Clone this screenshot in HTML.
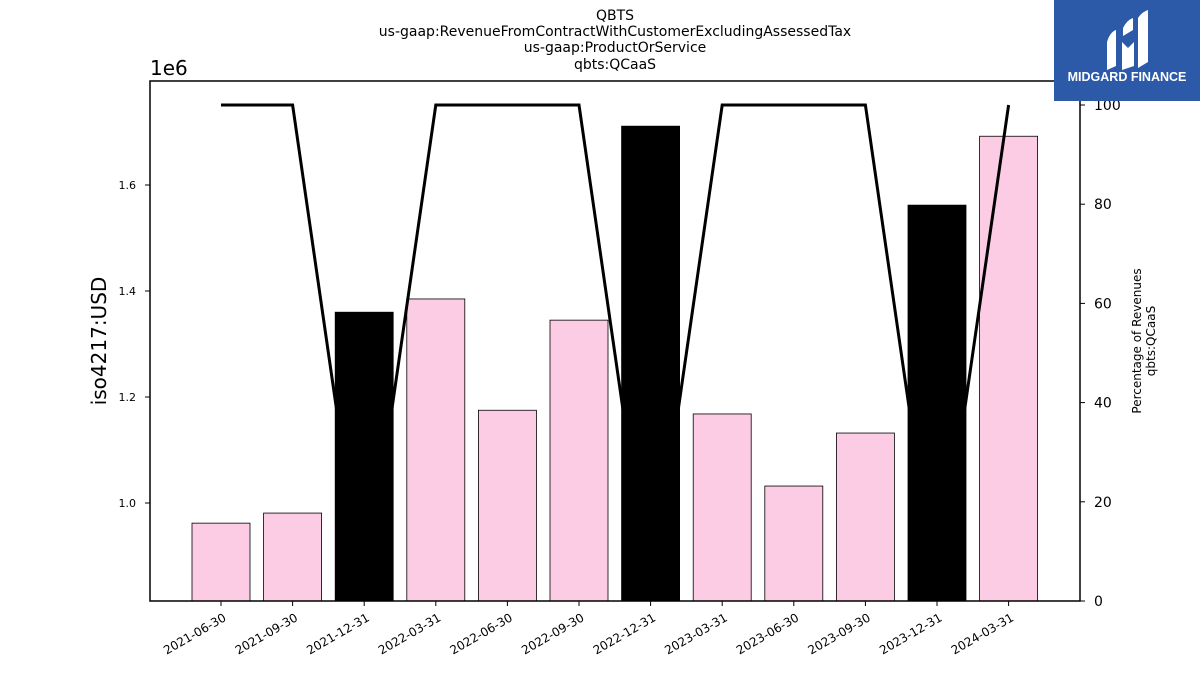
<!DOCTYPE html>
<html><head><meta charset="utf-8"><style>
body{margin:0;background:#fff;width:1200px;height:675px;overflow:hidden;font-family:"Liberation Sans","DejaVu Sans",sans-serif;}
svg{display:block}
</style></head><body>
<svg id="chart" width="1200" height="675" xmlns="http://www.w3.org/2000/svg" font-family="DejaVu Sans, Liberation Sans, sans-serif">
<g font-size="14" text-anchor="middle" fill="#000">
<text x="615" y="20">QBTS</text>
<text x="615" y="36">us-gaap:RevenueFromContractWithCustomerExcludingAssessedTax</text>
<text x="615" y="52">us-gaap:ProductOrService</text>
<text x="615" y="69">qbts:QCaaS</text>
</g>
<g id="bars"></g>
<g id="line"></g>
<rect x="150" y="81" width="930" height="520" fill="none" stroke="#000" stroke-width="1.5"/>
<g id="xaxis"></g><g id="yaxis"></g><g id="y2axis"></g>
<text x="150" y="75" font-size="20">1e6</text>
<text transform="translate(106,341) rotate(-90)" font-size="20" text-anchor="middle">iso4217:USD</text>
<g font-size="12" text-anchor="middle">
<text transform="translate(1141,341) rotate(-90)">Percentage of Revenues</text>
<text transform="translate(1155,341) rotate(-90)">qbts:QCaaS</text>
</g>
<g>
<rect x="1054" y="0" width="146" height="101" fill="#2c5aa8"/>
<path d="M1107 70 L1107 42 Q1110 32 1116 30 L1116 66 Z M1122 70 L1122 42 L1128 48 L1134 42 L1134 66 Z M1138 68 L1138 18 Q1142 12 1148 10 L1148 62 Z M1123 36 L1123 28 Q1127 20 1133 18 L1133 30 Z" fill="#fff"/>
<text x="1127" y="81" font-size="12.5" font-weight="bold" fill="#fff" text-anchor="middle" font-family="Liberation Sans, sans-serif">MIDGARD FINANCE</text>
</g>
</svg>
<script>
const categories=["2021-06-30","2021-09-30","2021-12-31","2022-03-31","2022-06-30","2022-09-30","2022-12-31","2023-03-31","2023-06-30","2023-09-30","2023-12-31","2024-03-31"];
const revenues=[0.962e6,0.981e6,1.360e6,1.385e6,1.175e6,1.345e6,1.711e6,1.168e6,1.032e6,1.132e6,1.562e6,1.692e6];
const percents=[100,100,0,100,100,100,0,100,100,100,0,100];
const yTicks=[1.0e6,1.2e6,1.4e6,1.6e6];
const yTickLabels=["1.0","1.2","1.4","1.6"];
const y2Ticks=[0,20,40,60,80,100];
const NS="http://www.w3.org/2000/svg";
function mk(t,a,p){const e=document.createElementNS(NS,t);for(const k in a)e.setAttribute(k,a[k]);p.appendChild(e);return e;}
const x=i=>221+i*71.6;
const y=v=>503-(v-1.0e6)/0.2e6*106;
const y2=p=>601-p*4.96;
const bars=document.getElementById('bars');
revenues.forEach((v,i)=>{
 const black=percents[i]<100;
 const r=mk('rect',{x:x(i)-29,y:y(v),width:58,height:601-y(v),fill:black?'#000':'#fccbe4',stroke:'#000','stroke-width':0.8},bars);
 
 
});
const lg=document.getElementById('line');
const pl=mk('polyline',{points:percents.map((p,i)=>x(i)+','+y2(p)).join(' '),fill:'none',stroke:'#000','stroke-width':3,'stroke-linejoin':'miter'},lg);


const xa=document.getElementById('xaxis');
categories.forEach((c,i)=>{
 const t=mk('line',{x1:x(i),x2:x(i),y1:601,y2:606,stroke:'#000'},xa);
 
 
 const l=mk('text',{x:0,y:0,'font-size':12,'text-anchor':'end',transform:`translate(${x(i)+6},${620}) rotate(-30)`},xa);
 l.textContent=c;
 
 
});
const ya=document.getElementById('yaxis');
yTicks.forEach((v,i)=>{
 const t=mk('line',{x1:145,x2:150,y1:y(v),y2:y(v),stroke:'#000'},ya);
 
 
 const l=mk('text',{x:136,y:y(v)+4,'font-size':11,'text-anchor':'end'},ya);
 l.textContent=yTickLabels[i];
 
 
});
const y2a=document.getElementById('y2axis');
y2Ticks.forEach(p=>{
 const t=mk('line',{x1:1080,x2:1085,y1:y2(p),y2:y2(p),stroke:'#000'},y2a);
 
 
 const l=mk('text',{x:1094,y:y2(p)+5,'font-size':14},y2a);
 l.textContent=p;
 
 
});
</script>
</body></html>
